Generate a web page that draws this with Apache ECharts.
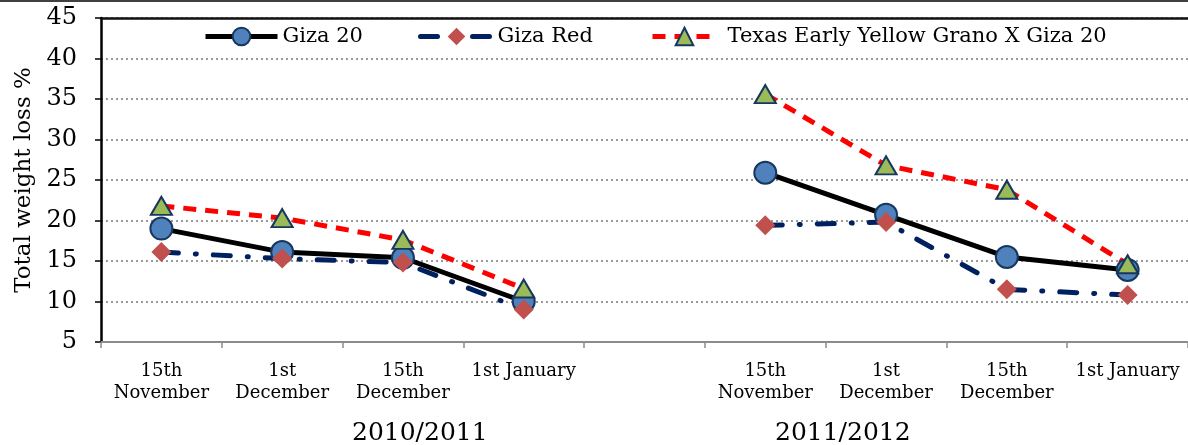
<!DOCTYPE html>
<html>
<head>
<meta charset="utf-8">
<script src="https://cdn.jsdelivr.net/npm/echarts@6/dist/echarts.min.js"></script>
<style>
  html, body { margin: 0; padding: 0; background: #fff; }
  #chart { width: 1188px; height: 445px; }
</style>
</head>
<body>
<div id="chart"></div>
<script>
// ==================== DATA ====================
const categories = [
  '15th\nNovember', '1st\nDecember', '15th\nDecember', '1st January', '',
  '15th\nNovember', '1st\nDecember', '15th\nDecember', '1st January'
];
const seasons = ['2010/2011', '2011/2012'];
const giza20 = [19.0, 16.1, 15.4, 10.0, null, 25.9, 20.7, 15.5, 13.9];
const gizaRed = [16.1, 15.3, 14.8, 9.0, null, 19.4, 19.8, 11.5, 10.8];
const texas = [21.8, 20.3, 17.6, 11.6, null, 35.6, 26.8, 23.8, 14.6];
const yTicks = { min: 5, max: 45, interval: 5 };

const FONT = 'DejaVu Serif';
const navy = '#17375E';
const names = ['Giza 20', 'Giza Red', 'Texas Early Yellow Grano X Giza 20'];

// one legend per item so each sits where the original has it
const legendAt = (name, left, w, textPad) => ({
  top: 21, left, itemWidth: w, itemHeight: 22,
  lineStyle: { width: 5 },
  textStyle: { fontFamily: FONT, fontSize: 21, color: '#000', padding: [0, 0, 0, textPad] },
  data: [name]
});

const chart = echarts.init(document.getElementById('chart'));
chart.setOption({
  backgroundColor: '#fff',
  animation: false,
  grid: { left: 101, right: -6, top: 18, bottom: 103 },
  legend: [
    legendAt(names[0], 198, 72, 0),
    legendAt(names[1], 413, 72, 0),
    legendAt(names[2], 645, 64, 6)
  ],
  xAxis: [{
    type: 'category', data: categories, boundaryGap: true,
    axisLine: { lineStyle: { color: '#8c8c8c', width: 2 } },
    axisTick: { show: true, length: 6, lineStyle: { color: '#8c8c8c', width: 1.5 } },
    axisLabel: { interval: 0, margin: 18, color: '#000', fontFamily: FONT, fontSize: 18, lineHeight: 22 },
    splitLine: { show: false }
  }, {
    type: 'category', position: 'top', data: categories,
    axisLine: { show: true, lineStyle: { color: '#111', width: 2.5 } },
    axisTick: { show: false }, axisLabel: { show: false }
  }],
  yAxis: {
    type: 'value', min: yTicks.min, max: yTicks.max, interval: yTicks.interval,
    name: 'Total weight loss %', nameLocation: 'middle', nameGap: 63,
    nameTextStyle: { fontFamily: FONT, fontSize: 23, color: '#000' },
    axisLine: { show: true, lineStyle: { color: '#000', width: 2.5 } },
    axisTick: { show: true, length: 6, lineStyle: { color: '#000', width: 1.5 } },
    axisLabel: { color: '#000', fontFamily: FONT, fontSize: 24, margin: 24 },
    splitLine: { lineStyle: { color: '#9a9a9a', type: [2, 3], width: 2 } }
  },
  series: [
    {
      name: names[0], type: 'line', data: giza20,
      symbol: 'circle', symbolSize: 22,
      lineStyle: { color: '#000', width: 5 },
      itemStyle: { color: '#4F81BD', borderColor: navy, borderWidth: 2 }
    },
    {
      name: names[1], type: 'line', data: gizaRed,
      symbol: 'diamond', symbolSize: 20,
      lineStyle: { color: '#002060', width: 5, type: [17, 17, 1, 17], cap: 'round' },
      itemStyle: { color: '#C0504D', borderWidth: 0 }
    },
    {
      name: names[2], type: 'line', data: texas,
      symbol: 'triangle', symbolSize: [21, 18],
      lineStyle: { color: '#FF0000', width: 5, type: [13, 9] },
      itemStyle: { color: '#9BBB59', borderColor: navy, borderWidth: 2 }
    }
  ],
  graphic: [
    { type: 'line', shape: { x1: 0, y1: 1, x2: 1188, y2: 1 }, style: { stroke: '#000', lineWidth: 1.5 } },
    { type: 'text', left: 352, top: 421, style: { text: seasons[0], fontFamily: FONT, fontSize: 25, fill: '#000' } },
    { type: 'text', left: 775, top: 421, style: { text: seasons[1], fontFamily: FONT, fontSize: 25, fill: '#000' } }
  ]
});
</script>
</body>
</html>
